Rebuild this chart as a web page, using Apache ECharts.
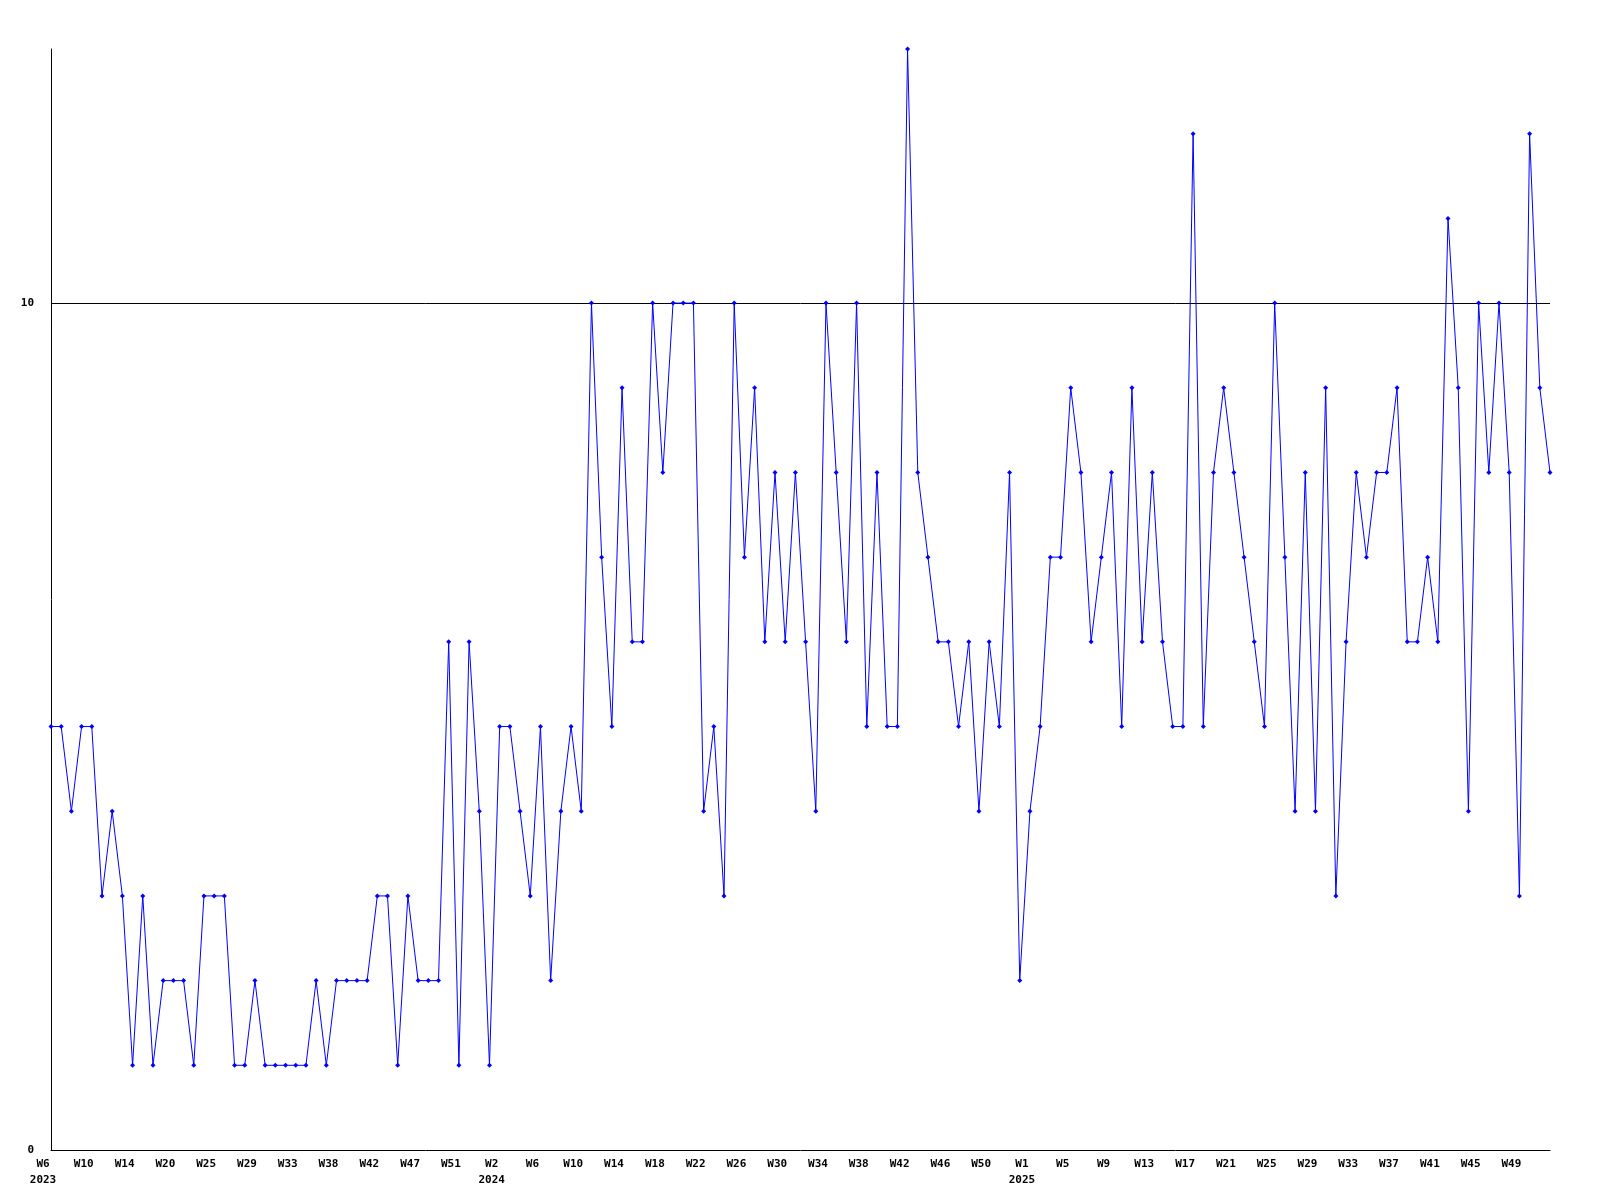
<!DOCTYPE html>
<html>
<head>
<meta charset="utf-8">
<script src="https://cdn.jsdelivr.net/npm/echarts@6/dist/echarts.min.js"></script>
<style>
html,body{margin:0;padding:0;background:#fff;}
#chart{width:1600px;height:1200px;}
</style>
</head>
<body>
<div id="chart"></div>
<script>
// Week categories (year, week number); only every 4th label is shown on the axis
const years = [
  2023,2023,2023,2023,2023,2023,2023,2023,2023,2023,2023,2023,2023,2023,2023,2023,2023,2023,2023,2023,
  2023,2023,2023,2023,2023,2023,2023,2023,2023,2023,2023,2023,2023,2023,2023,2023,2023,2023,2023,2023,
  2023,2023,
  2024,2024,2024,2024,2024,2024,2024,2024,2024,2024,2024,2024,2024,2024,2024,2024,2024,2024,2024,2024,
  2024,2024,2024,2024,2024,2024,2024,2024,2024,2024,2024,2024,2024,2024,2024,2024,2024,2024,2024,2024,
  2024,2024,2024,2024,2024,2024,2024,2024,2024,2024,2024,2024,2024,
  2025,2025,2025,2025,2025,2025,2025,2025,2025,2025,2025,2025,2025,2025,2025,2025,2025,2025,2025,2025,
  2025,2025,2025,2025,2025,2025,2025,2025,2025,2025,2025,2025,2025,2025,2025,2025,2025,2025,2025,2025,
  2025,2025,2025,2025,2025,2025,2025,2025,2025,2025,2025,2025,2025
];
const weeks = [
  6,7,8,9,10,11,12,13,14,16,17,19,20,21,22,23,25,26,27,28,
  29,30,31,32,33,34,35,36,38,39,40,41,42,43,44,45,47,48,49,50,
  51,52,
  0,1,2,3,4,5,6,7,8,9,10,11,12,13,14,15,16,17,18,19,
  20,21,22,23,24,25,26,27,28,29,30,31,32,33,34,35,36,37,38,39,
  40,41,42,43,44,45,46,47,48,49,50,51,52,
  0,1,2,3,4,5,6,7,8,9,10,11,12,13,14,15,16,17,18,19,
  20,21,22,23,24,25,26,27,28,29,30,31,32,33,34,35,36,37,38,39,
  40,41,42,43,44,45,46,47,48,49,50,51,52
];
// Weekly counts
const values = [
  5,5,4,5,5,3,4,3,1,3,1,2,2,2,1,3,3,3,1,1,
  2,1,1,1,1,1,2,1,2,2,2,2,3,3,1,3,2,2,2,6,
  1,6,4,1,5,5,4,3,5,2,4,5,4,10,7,5,9,6,6,10,
  8,10,10,10,4,5,3,10,7,9,6,8,6,8,6,4,10,8,6,10,
  5,8,5,5,13,8,7,6,6,5,6,4,6,5,8,2,4,5,7,7,
  9,8,6,7,8,5,9,6,8,6,5,5,12,5,8,9,8,7,6,5,
  10,7,4,8,4,9,3,6,8,7,8,8,9,6,6,7,6,11,9,4,
  10,8,10,8,3,12,9,8
];
const yTickLabels = [0, 10];
const thresholdValue = 10;

const categories = years.map((y, i) => y + '-W' + weeks[i]);

const chart = echarts.init(document.getElementById('chart'), null, {renderer: 'canvas'});
const labelFont = {fontFamily: 'DejaVu Sans Mono', fontWeight: 'bold', fontSize: 11, color: '#000'};
let lastYear = null;
chart.setOption({
  animation: false,
  backgroundColor: '#fff',
  grid: {left: 51, right: 50, top: 49, bottom: 50, containLabel: false},
  xAxis: {
    type: 'category',
    data: categories,
    boundaryGap: false,
    axisLine: {show: true, onZero: false, lineStyle: {color: '#000', width: 1}},
    axisTick: {show: false},
    splitLine: {show: false},
    axisLabel: Object.assign({
      interval: 3,
      margin: 6,
      lineHeight: 16,
      padding: [0, 16, 0, 0],
      formatter: function (val, idx) {
        const y = years[idx];
        let s = 'W' + weeks[idx];
        if (idx === 0 || years[idx] !== years[idx - 4]) s += '\n' + y;
        return s;
      }
    }, labelFont)
  },
  yAxis: {
    type: 'value',
    min: 0,
    max: 13,
    interval: 10,
    axisLine: {show: true, lineStyle: {color: '#000', width: 1}},
    axisTick: {show: false},
    splitLine: {show: false},
    axisLabel: Object.assign({
      margin: 17,
      formatter: function (v) { return yTickLabels.indexOf(v) >= 0 ? String(v) : ''; }
    }, labelFont)
  },
  series: [{
    type: 'line',
    data: values,
    symbol: 'diamond',
    symbolSize: 5,
    showAllSymbol: true,
    lineStyle: {color: '#0000ff', width: 1},
    itemStyle: {color: '#0000ff', borderWidth: 0},
    z: 3,
    markLine: {
      silent: true,
      symbol: ['none', 'none'],
      label: {show: false},
      lineStyle: {color: '#000', width: 1, type: 'solid'},
      emphasis: {disabled: true},
      z: 1,
      data: [{yAxis: thresholdValue}]
    }
  }]
});
</script>
</body>
</html>
